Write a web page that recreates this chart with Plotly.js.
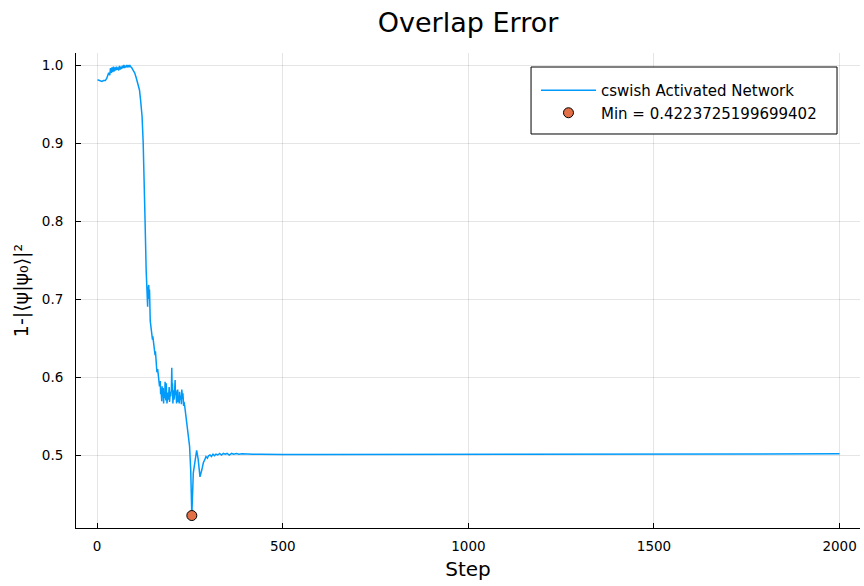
<!DOCTYPE html>
<html>
<head>
<meta charset="utf-8">
<script src="https://cdn.plot.ly/plotly-3.0.1.min.js"></script>
<style>html,body{margin:0;padding:0;background:#fff;}#chart{width:864px;height:586px;}</style>
</head>
<body>
<div id="chart"></div>
<script>
// Loss curve (step, 1-|<psi|psi0>|^2)
const steps = [1, 5, 9, 13, 17, 22, 26, 31, 34, 36, 38, 40, 42, 44, 46, 48, 50, 52, 54, 56, 58, 60, 62, 64, 66, 68, 70, 72, 74, 76, 78, 80, 82, 84, 86, 88, 90, 92, 94, 97, 101, 105, 110, 114, 117, 121, 124, 127, 129, 132, 135, 136, 137, 139, 140, 141, 143, 145, 147, 149, 150, 152, 154, 156, 157, 158, 160, 161, 163, 165, 166, 168, 170, 171, 172, 174, 175, 176, 178, 179, 180, 182, 183, 185, 186, 188, 189, 191, 192, 194, 195, 197, 198, 200, 201, 202, 203, 204, 206, 207, 208, 210, 211, 212, 214, 215, 217, 218, 219, 221, 222, 224, 225, 227, 228, 230, 231, 233, 234, 236, 237, 241, 245, 249, 252, 255, 259, 264, 268, 272, 277, 282, 286, 290, 293, 297, 300, 304, 308, 312, 316, 320, 325, 330, 335, 340, 345, 350, 356, 362, 368, 375, 382, 390, 400, 410, 420, 440, 470, 500, 600, 800, 1000, 1200, 1500, 1800, 2000];
const overlapError = [0.981, 0.980, 0.980, 0.979, 0.980, 0.980, 0.983, 0.990, 0.987, 0.996, 0.990, 0.997, 0.991, 0.998, 0.992, 0.997, 0.993, 0.998, 0.994, 0.997, 0.993, 0.999, 0.994, 0.998, 0.995, 0.999, 0.996, 1.000, 0.996, 0.999, 0.997, 1.000, 0.997, 0.999, 0.998, 1.000, 0.998, 0.997, 0.996, 0.993, 0.990, 0.984, 0.973, 0.968, 0.955, 0.934, 0.900, 0.853, 0.801, 0.737, 0.695, 0.690, 0.712, 0.718, 0.700, 0.712, 0.672, 0.662, 0.656, 0.648, 0.652, 0.643, 0.637, 0.628, 0.633, 0.620, 0.616, 0.606, 0.610, 0.599, 0.604, 0.588, 0.595, 0.578, 0.585, 0.569, 0.588, 0.575, 0.586, 0.566, 0.581, 0.573, 0.594, 0.570, 0.592, 0.566, 0.573, 0.580, 0.571, 0.587, 0.568, 0.581, 0.575, 0.585, 0.612, 0.585, 0.592, 0.566, 0.583, 0.571, 0.575, 0.596, 0.577, 0.583, 0.566, 0.571, 0.584, 0.568, 0.576, 0.566, 0.581, 0.571, 0.576, 0.565, 0.584, 0.572, 0.579, 0.563, 0.568, 0.562, 0.558, 0.536, 0.522, 0.511, 0.481, 0.4223725199699402, 0.477, 0.494, 0.506, 0.495, 0.472, 0.481, 0.490, 0.494, 0.498, 0.496, 0.499, 0.500, 0.498, 0.501, 0.499, 0.501, 0.500, 0.502, 0.500, 0.502, 0.501, 0.502, 0.500, 0.502, 0.501, 0.502, 0.501, 0.5015, 0.501, 0.5012, 0.5008, 0.5008, 0.5006, 0.5006, 0.5007, 0.5009, 0.5010, 0.5011, 0.5013, 0.5014, 0.5015];
const minStep = [255];
const minValue = [0.4223725199699402];
const lineName = "cswish Activated Network";
const minName = "Min = 0.4223725199699402";
const xTicks = [0, 500, 1000, 1500, 2000];
const yTicks = [0.5, 0.6, 0.7, 0.8, 0.9, 1.0];

const font = "DejaVu Sans, sans-serif";
const traces = [
  {x: steps, y: overlapError, type: "scatter", mode: "lines", name: lineName, legendgroup: "a",
   line: {color: "#009AFA", width: 1.5}},
  {x: minStep, y: minValue, type: "scatter", mode: "markers", name: minName, legendgroup: "b",
   marker: {color: "#E26F46", size: 10, line: {color: "#000", width: 1}}}
];
const layout = {
  width: 864, height: 586,
  margin: {l: 76, r: 4, t: 53, b: 58},
  paper_bgcolor: "#fff", plot_bgcolor: "#fff",
  font: {family: font, color: "#000", size: 13},
  title: {text: "Overlap Error", x: 0.5417, xanchor: "center", y: 0.962, yanchor: "middle",
          font: {family: font, size: 27, color: "#000"}},
  xaxis: {range: [-57, 2055], tickvals: xTicks, ticktext: xTicks.map(String),
          ticks: "inside", ticklen: 5, tickcolor: "#000", showline: true, linecolor: "#000", linewidth: 1,
          showgrid: true, gridcolor: "rgba(0,0,0,0.1)", gridwidth: 1, zeroline: false,
          ticklabelstandoff: 6,
          tickfont: {family: font, size: 13.5, color: "#000"},
          title: {text: "Step", font: {family: font, size: 20, color: "#000"}, standoff: 8}},
  yaxis: {range: [0.4064, 1.0154], tickvals: yTicks, ticktext: yTicks.map(v => v.toFixed(1)),
          ticks: "inside", ticklen: 5, tickcolor: "#000", showline: true, linecolor: "#000", linewidth: 1,
          showgrid: true, gridcolor: "rgba(0,0,0,0.1)", gridwidth: 1, zeroline: false,
          ticklabelstandoff: 9,
          tickfont: {family: font, size: 13.5, color: "#000"},
          title: {text: "1-|⟨ψ|ψ₀⟩|²", font: {family: font, size: 19, color: "#000"}, standoff: 8}},
  shapes: [{type: "rect", xref: "paper", yref: "paper", x0: 0.5804, x1: 0.9707, y0: 0.8295, y1: 0.9705,
            fillcolor: "#fff", line: {color: "#000", width: 1}, layer: "above"}],
  showlegend: true,
  legend: {x: 0.5867, y: 0.9558, xanchor: "left", yanchor: "top", bgcolor: "rgba(0,0,0,0)",
           borderwidth: 0, font: {family: font, size: 15, color: "#000"},
           itemwidth: 55, tracegroupgap: 0}
};
Plotly.newPlot("chart", traces, layout, {displayModeBar: false, staticPlot: true});
</script>
</body>
</html>
